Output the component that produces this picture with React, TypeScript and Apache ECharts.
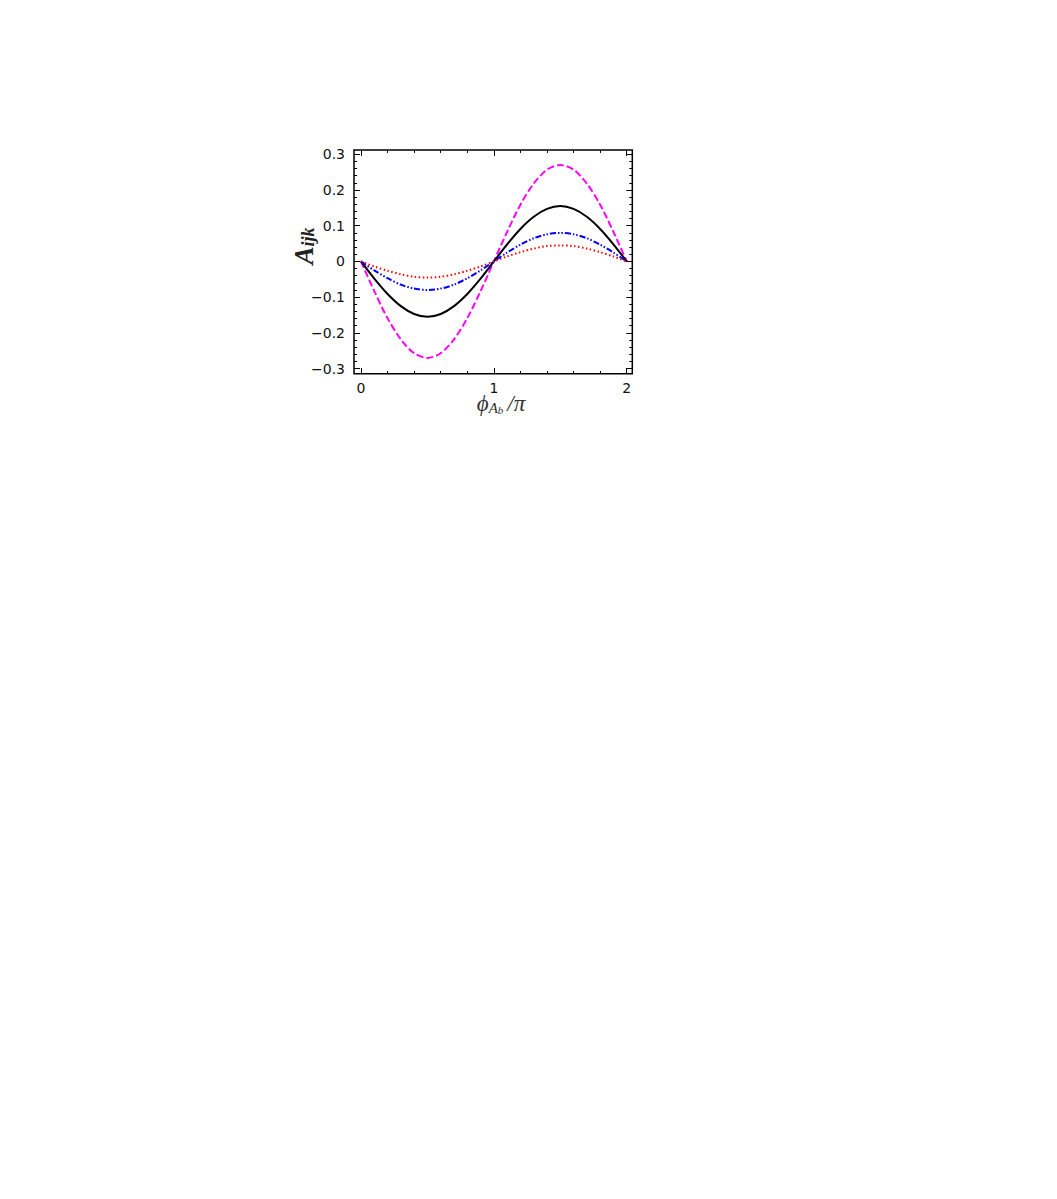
import React, { useEffect, useRef } from "react";
import * as echarts from "echarts";

const xValues = [0, 0.1, 0.2, 0.3, 0.4, 0.5, 0.6, 0.7, 0.8, 0.9, 1.0, 1.1, 1.2, 1.3, 1.4, 1.5, 1.6, 1.7, 1.8, 1.9, 2.0];

const magentaValues = [0, -0.083, -0.159, -0.218, -0.257, -0.27, -0.257, -0.218, -0.159, -0.083, 0, 0.083, 0.159, 0.218, 0.257, 0.27, 0.257, 0.218, 0.159, 0.083, 0];
const blackValues = [0, -0.048, -0.091, -0.125, -0.147, -0.155, -0.147, -0.125, -0.091, -0.048, 0, 0.048, 0.091, 0.125, 0.147, 0.155, 0.147, 0.125, 0.091, 0.048, 0];
const blueValues = [0, -0.025, -0.047, -0.065, -0.076, -0.08, -0.076, -0.065, -0.047, -0.025, 0, 0.025, 0.047, 0.065, 0.076, 0.08, 0.076, 0.065, 0.047, 0.025, 0];
const redValues = [0, -0.014, -0.026, -0.036, -0.043, -0.045, -0.043, -0.036, -0.026, -0.014, 0, 0.014, 0.026, 0.036, 0.043, 0.045, 0.043, 0.036, 0.026, 0.014, 0];

const xTickLabels = ["0", "1", "2"];

const zip = (ys: number[]) => xValues.map((x, i) => [x, ys[i]]);

const tickFont = "DejaVu Sans";

const fmtY = (v: number) => {
  const r = Math.round(v * 10) / 10;
  if (Math.abs(r) < 1e-9) return "0";
  if (r < 0) return "\u2212" + Math.abs(r).toFixed(1);
  return r.toFixed(1);
};

const baseAxisTick = { show: true, inside: true, length: 6, lineStyle: { color: "#000", width: 1 } };
const baseMinor = { show: true, splitNumber: 5, length: 3, lineStyle: { color: "#000", width: 1 } };
const noLine = { show: false, onZero: false };

export default function App() {
  const ref = useRef<HTMLDivElement>(null);
  useEffect(() => {
    if (!ref.current) return;
    const chart = echarts.init(ref.current, undefined, { renderer: "svg" });
    const option: any = {
      animation: false,
      backgroundColor: "#fff",
      grid: { left: 361, top: 154.3, width: 265.7, height: 214.3, show: false },
      xAxis: [
        {
          type: "value", position: "bottom", offset: 5.4, min: 0, max: 2, interval: 1,
          axisLine: noLine, splitLine: { show: false },
          axisTick: baseAxisTick, minorTick: baseMinor,
          axisLabel: {
            margin: 7, fontSize: 14, fontFamily: tickFont, color: "#111",
            formatter: (v: number) => xTickLabels[Math.round(v)] ?? "",
          },
        },
        {
          type: "value", position: "top", offset: 4.3, min: 0, max: 2, interval: 1,
          axisLine: noLine, splitLine: { show: false },
          axisTick: baseAxisTick, minorTick: baseMinor, axisLabel: { show: false },
        },
      ],
      yAxis: [
        {
          type: "value", position: "left", offset: 7, min: -0.3, max: 0.3, interval: 0.1,
          axisLine: noLine, splitLine: { show: false },
          axisTick: baseAxisTick, minorTick: baseMinor,
          axisLabel: { margin: 9, fontSize: 14, fontFamily: tickFont, color: "#111", formatter: fmtY },
        },
        {
          type: "value", position: "right", offset: 5.6, min: -0.3, max: 0.3, interval: 0.1,
          axisLine: noLine, splitLine: { show: false },
          axisTick: baseAxisTick, minorTick: baseMinor, axisLabel: { show: false },
        },
      ],
      series: [
        {
          type: "line", data: zip(magentaValues), smooth: 0.3, showSymbol: false, xAxisIndex: 0, yAxisIndex: 0,
          lineStyle: { color: "#ff00ff", width: 2, type: [7, 3] },
        },
        {
          type: "line", data: zip(blackValues), smooth: 0.3, showSymbol: false, xAxisIndex: 0, yAxisIndex: 0,
          lineStyle: { color: "#000", width: 2, type: "solid" },
        },
        {
          type: "line", data: zip(blueValues), smooth: 0.3, showSymbol: false, xAxisIndex: 0, yAxisIndex: 0,
          lineStyle: { color: "#0000ff", width: 2, type: [6, 2, 1.5, 2, 1.5, 2] },
        },
        {
          type: "line", data: zip(redValues), smooth: 0.3, showSymbol: false, xAxisIndex: 0, yAxisIndex: 0,
          lineStyle: { color: "#ff0000", width: 2, type: [1.5, 2.5] },
        },
      ],
      graphic: [
        {
          type: "rect", shape: { x: 354, y: 150, width: 278.3, height: 223.7 },
          style: { fill: "none", stroke: "#000", lineWidth: 1.5 }, z: 10, silent: true,
        },
        {
          type: "text", x: 303, y: 246, rotation: Math.PI / 2,
          style: {
            text: "{a|A}{s|ijk}", align: "center", verticalAlign: "middle",
            rich: {
              a: { fontFamily: "Liberation Serif", fontStyle: "italic", fontWeight: "bold", fontSize: 27, lineHeight: 28, fill: "#222", verticalAlign: "bottom" },
              s: { fontFamily: "Liberation Serif", fontStyle: "italic", fontWeight: "bold", fontSize: 18, lineHeight: 15, fill: "#222", verticalAlign: "bottom" },
            },
          },
        },
        {
          type: "text", x: 501, y: 403,
          style: {
            text: "{p|\u03d5}{s|A}{ss|b}{p|/\u03c0}", align: "center", verticalAlign: "middle",
            rich: {
              p: { fontFamily: "Liberation Serif", fontStyle: "italic", fontSize: 23, lineHeight: 24, fill: "#333", verticalAlign: "bottom" },
              s: { fontFamily: "Liberation Serif", fontStyle: "italic", fontSize: 15, lineHeight: 12, fill: "#333", verticalAlign: "bottom" },
              ss: { fontFamily: "Liberation Serif", fontStyle: "italic", fontSize: 11, lineHeight: 6, fill: "#333", verticalAlign: "bottom", padding: [0, 4, 0, 0] },
            },
          },
        },
      ],
    };
    chart.setOption(option);
    return () => chart.dispose();
  }, []);
  return <div ref={ref} style={{ position: "absolute", left: 0, top: 0, width: 1057, height: 1199 }} />;
}
